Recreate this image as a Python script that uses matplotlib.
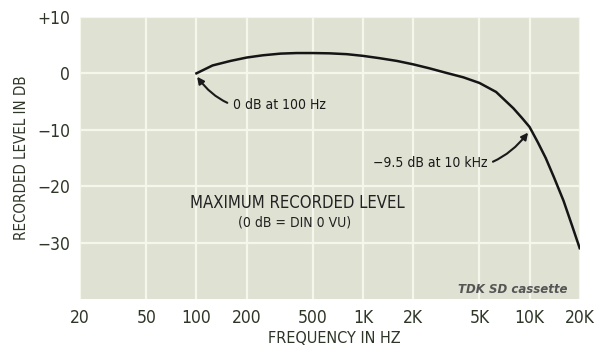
import matplotlib.pyplot as plt
from matplotlib.ticker import FixedLocator, NullLocator
from matplotlib import font_manager

# data
freq = [100, 125, 160, 200, 250, 320, 400, 500, 630, 800, 1000, 1250, 1600,
        2000, 2500, 3150, 4000, 5000, 6300, 8000, 9000, 10000, 11200, 12500,
        14000, 16000, 18000, 20000]
level = [0, 1.4, 2.2, 2.8, 3.2, 3.5, 3.6, 3.6, 3.55, 3.4, 3.1, 2.7, 2.2,
         1.6, 0.9, 0.1, -0.7, -1.7, -3.3, -6.2, -7.9, -9.5, -12.2, -15.0,
         -18.4, -22.6, -27.0, -31.0]

xticks = [20, 50, 100, 200, 500, 1000, 2000, 5000, 10000, 20000]
xlabels = ["20", "50", "100", "200", "500", "1K", "2K", "5K", "10K", "20K"]
yticks = [10, 0, -10, -20, -30]
ylabels = ["+10", "0", "\u221210", "\u221220", "\u221230"]

txt = "#2e3628"


def fp(size, **kw):
    return font_manager.FontProperties(family="DejaVu Sans", stretch="condensed",
                                       size=size, **kw)


fig = plt.figure(figsize=(5.97, 3.46), dpi=100)
ax = fig.add_axes([0.134, 0.136, 0.837, 0.815])
ax.set_facecolor("#dfe1d3")
for s in ax.spines.values():
    s.set_visible(False)

ax.set_xscale("log")
ax.set_xlim(20, 20000)
ax.set_ylim(-40, 10)

ax.xaxis.set_major_locator(FixedLocator(xticks))
ax.xaxis.set_minor_locator(NullLocator())
ax.set_xticks(xticks)
ax.set_xticklabels(xlabels, fontproperties=fp(12.5), color=txt)
ax.set_yticks(yticks)
ax.set_yticklabels(ylabels, fontproperties=fp(12.5), color=txt)
ax.tick_params(length=0, pad=7)

ax.grid(True, color="#f5f6ec", linewidth=1.6)
ax.set_axisbelow(True)

ax.plot(freq, level, color="#151515", linewidth=1.8)

ax.set_xlabel("FREQUENCY IN HZ", fontproperties=fp(11.6), color=txt, labelpad=4)
ax.xaxis.set_label_coords(0.508, -0.115)
ax.set_ylabel("RECORDED LEVEL IN DB", fontproperties=fp(10.8), color=txt, labelpad=6)

ax.annotate("0 dB at 100 Hz", xy=(101, -0.6), xytext=(165, -5.6),
            fontproperties=fp(10), color="#1a1a1a", va="center", ha="left",
            arrowprops=dict(arrowstyle="-|>", color="#1a1a1a", lw=1.5,
                            connectionstyle="arc3,rad=-0.35", shrinkA=2, shrinkB=0))
ax.annotate("\u22129.5 dB at 10 kHz", xy=(9800, -10.5), xytext=(5600, -15.9),
            fontproperties=fp(10), color="#1a1a1a", va="center", ha="right",
            arrowprops=dict(arrowstyle="-|>", color="#1a1a1a", lw=1.5,
                            connectionstyle="arc3,rad=0.35", shrinkA=2, shrinkB=0))

ax.text(0.434, 0.342, "MAXIMUM RECORDED LEVEL", transform=ax.transAxes,
        fontproperties=fp(12), color="#222", ha="center", va="center")
ax.text(0.43, 0.272, "(0 dB = DIN 0 VU)", transform=ax.transAxes,
        fontproperties=fp(10), color="#222", ha="center", va="center")
ax.text(0.975, 0.035, "TDK SD cassette", transform=ax.transAxes,
        family="DejaVu Sans", fontsize=8.5, fontweight="bold", fontstyle="italic",
        color="#555", ha="right", va="center")

plt.savefig("out.png", dpi=100)
